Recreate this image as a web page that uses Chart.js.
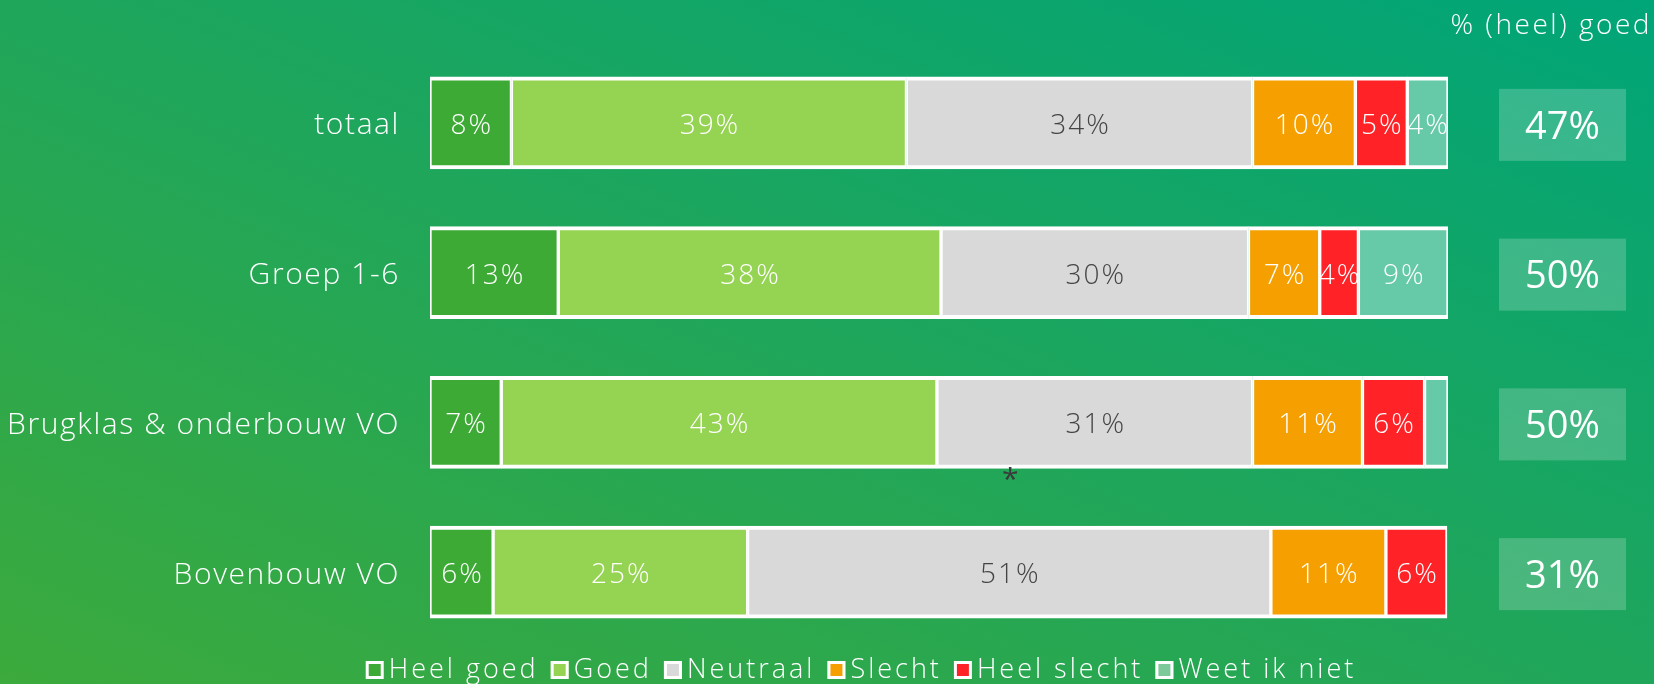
<!DOCTYPE html>
<html>
<head>
<meta charset="utf-8">
<script src="https://cdn.jsdelivr.net/npm/chart.js@4/dist/chart.umd.min.js"></script>
<style>
  html, body { margin: 0; padding: 0; }
  body {
    width: 1654px; height: 684px; overflow: hidden;
    background: linear-gradient(to top right, #3caa3c 0%, #1fa65b 50%, #00a578 100%);
  }
  #wrap { position: relative; width: 1654px; height: 684px; }
</style>
</head>
<body>
<div id="wrap"><canvas id="c" width="1654" height="684"></canvas></div>
<script>
const categories = ['totaal', 'Groep 1-6', 'Brugklas & onderbouw VO', 'Bovenbouw VO'];
const seriesNames = ['Heel goed', 'Goed', 'Neutraal', 'Slecht', 'Heel slecht', 'Weet ik niet'];
const heelGoed   = [8.0, 12.6, 7.0, 6.2];
const goed       = [38.8, 37.6, 42.8, 25.0];
const neutraal   = [34.0, 30.2, 31.0, 51.4];
const slecht     = [10.1, 7.0, 10.8, 11.3];
const heelSlecht = [5.1, 3.8, 6.1, 6.0];
const weetNiet   = [4.0, 8.8, 2.3, 0];
const goedTotaal = [47, 50, 50, 31];
const rightTitle = '% (heel) goed';
const significant = [{ category: 'Brugklas & onderbouw VO', mark: '*' }];

const colors = ['#3daa35', '#95d352', '#d9d9d9', '#f5a000', '#ff2227', '#66c9a8'];
const legendColors = ['#3daa35', '#95d352', '#d9d9d9', '#f5a000', '#ff2227', '#7dc99a'];
const labelColors = ['#ffffff', '#ffffff', '#444444', '#ffffff', '#ffffff', '#ffffff'];
const FONT = '"Open Sans", "Noto Sans", sans-serif';

const seriesData = [heelGoed, goed, neutraal, slecht, heelSlecht, weetNiet];

const datasets = seriesNames.map((name, i) => ({
  label: name,
  data: seriesData[i],
  backgroundColor: colors[i],
  borderColor: '#ffffff',
  borderWidth: { top: 4, bottom: 4, left: 2, right: 2 },
  borderSkipped: false,
  barThickness: 92
}));

const spacing = {
  id: 'spacing',
  beforeDraw(chart) { chart.ctx.letterSpacing = '1.6px'; }
};

const segmentLabels = {
  id: 'segmentLabels',
  afterDatasetsDraw(chart) {
    const ctx = chart.ctx;
    ctx.save();
    ctx.letterSpacing = '2px';
    ctx.font = '300 28px ' + FONT;
    ctx.textAlign = 'center';
    ctx.textBaseline = 'middle';
    chart.data.datasets.forEach((ds, di) => {
      const meta = chart.getDatasetMeta(di);
      meta.data.forEach((bar, i) => {
        const v = ds.data[i];
        if (v < 3) return;
        const cx = (bar.x + bar.base) / 2 + 1;
        ctx.fillStyle = labelColors[di];
        ctx.fillText(Math.round(v) + '%', cx, bar.y + 3);
      });
    });
    ctx.restore();
  }
};

const extras = {
  id: 'extras',
  afterDraw(chart) {
    const ctx = chart.ctx;
    const y = chart.scales.y;
    const x = chart.scales.x;
    const area = chart.chartArea;
    ctx.save();
    ctx.textBaseline = 'middle';
    // title above the right column
    ctx.letterSpacing = '2.5px';
    ctx.font = '300 28px ' + FONT;
    ctx.fillStyle = '#ffffff';
    ctx.textAlign = 'right';
    ctx.fillText(rightTitle, chart.width - 2, 26);
    // right column boxes
    ctx.letterSpacing = '0px';
    const bx = area.right + 51, bw = 127, bh = 72;
    goedTotaal.forEach((v, i) => {
      const cy = y.getPixelForValue(i) + 2;
      ctx.fillStyle = 'rgba(255,255,255,0.2)';
      ctx.fillRect(bx, cy - bh / 2, bw, bh);
      ctx.fillStyle = '#ffffff';
      ctx.font = '38px ' + FONT;
      ctx.textAlign = 'center';
      ctx.fillText(v + '%', bx + bw / 2, cy + 3);
    });
    // significance marks
    significant.forEach(s => {
      const idx = categories.indexOf(s.category);
      const cy = y.getPixelForValue(idx) + 46 + 12;
      ctx.fillStyle = '#3a3a3a';
      ctx.font = '30px ' + FONT;
      ctx.textAlign = 'center';
      ctx.fillText(s.mark, x.getPixelForValue(57), cy);
    });
    // legend
    ctx.letterSpacing = '3px';
    ctx.font = '300 27px ' + FONT;
    ctx.textAlign = 'left';
    const box = 18, gapText = 5, gapItem = 12;
    const widths = seriesNames.map(n => ctx.measureText(n).width);
    let total = 0;
    widths.forEach((w, i) => { total += box + gapText + w + (i < widths.length - 1 ? gapItem : 0); });
    let lx = 861 - total / 2;
    const ly = 670;
    seriesNames.forEach((n, i) => {
      ctx.fillStyle = legendColors[i];
      ctx.fillRect(lx, ly - box / 2, box, box);
      ctx.strokeStyle = '#ffffff';
      ctx.lineWidth = 3;
      ctx.strokeRect(lx + 1.5, ly - box / 2 + 1.5, box - 3, box - 3);
      ctx.fillStyle = '#ffffff';
      ctx.fillText(n, lx + box + gapText, ly);
      lx += box + gapText + widths[i] + gapItem;
    });
    ctx.restore();
  }
};

new Chart(document.getElementById('c'), {
  type: 'bar',
  data: { labels: categories, datasets },
  options: {
    indexAxis: 'y',
    responsive: false,
    animation: false,
    layout: { padding: { left: 0, right: 206, top: 48, bottom: 37 } },
    scales: {
      x: { stacked: true, min: 0, max: 100, display: false },
      y: {
        stacked: true,
        grid: { display: false, drawTicks: false },
        border: { display: false },
        ticks: { color: '#ffffff', font: { family: FONT, size: 30, weight: '300' }, padding: 30, labelOffset: 3 },
        afterFit(scale) {
          scale.width = 430;
          scale.paddingTop = 0;
          scale.paddingBottom = 0;
        }
      }
    },
    plugins: {
      tooltip: { enabled: false },
      legend: { display: false }
    }
  },
  plugins: [spacing, segmentLabels, extras]
});
</script>
</body>
</html>
